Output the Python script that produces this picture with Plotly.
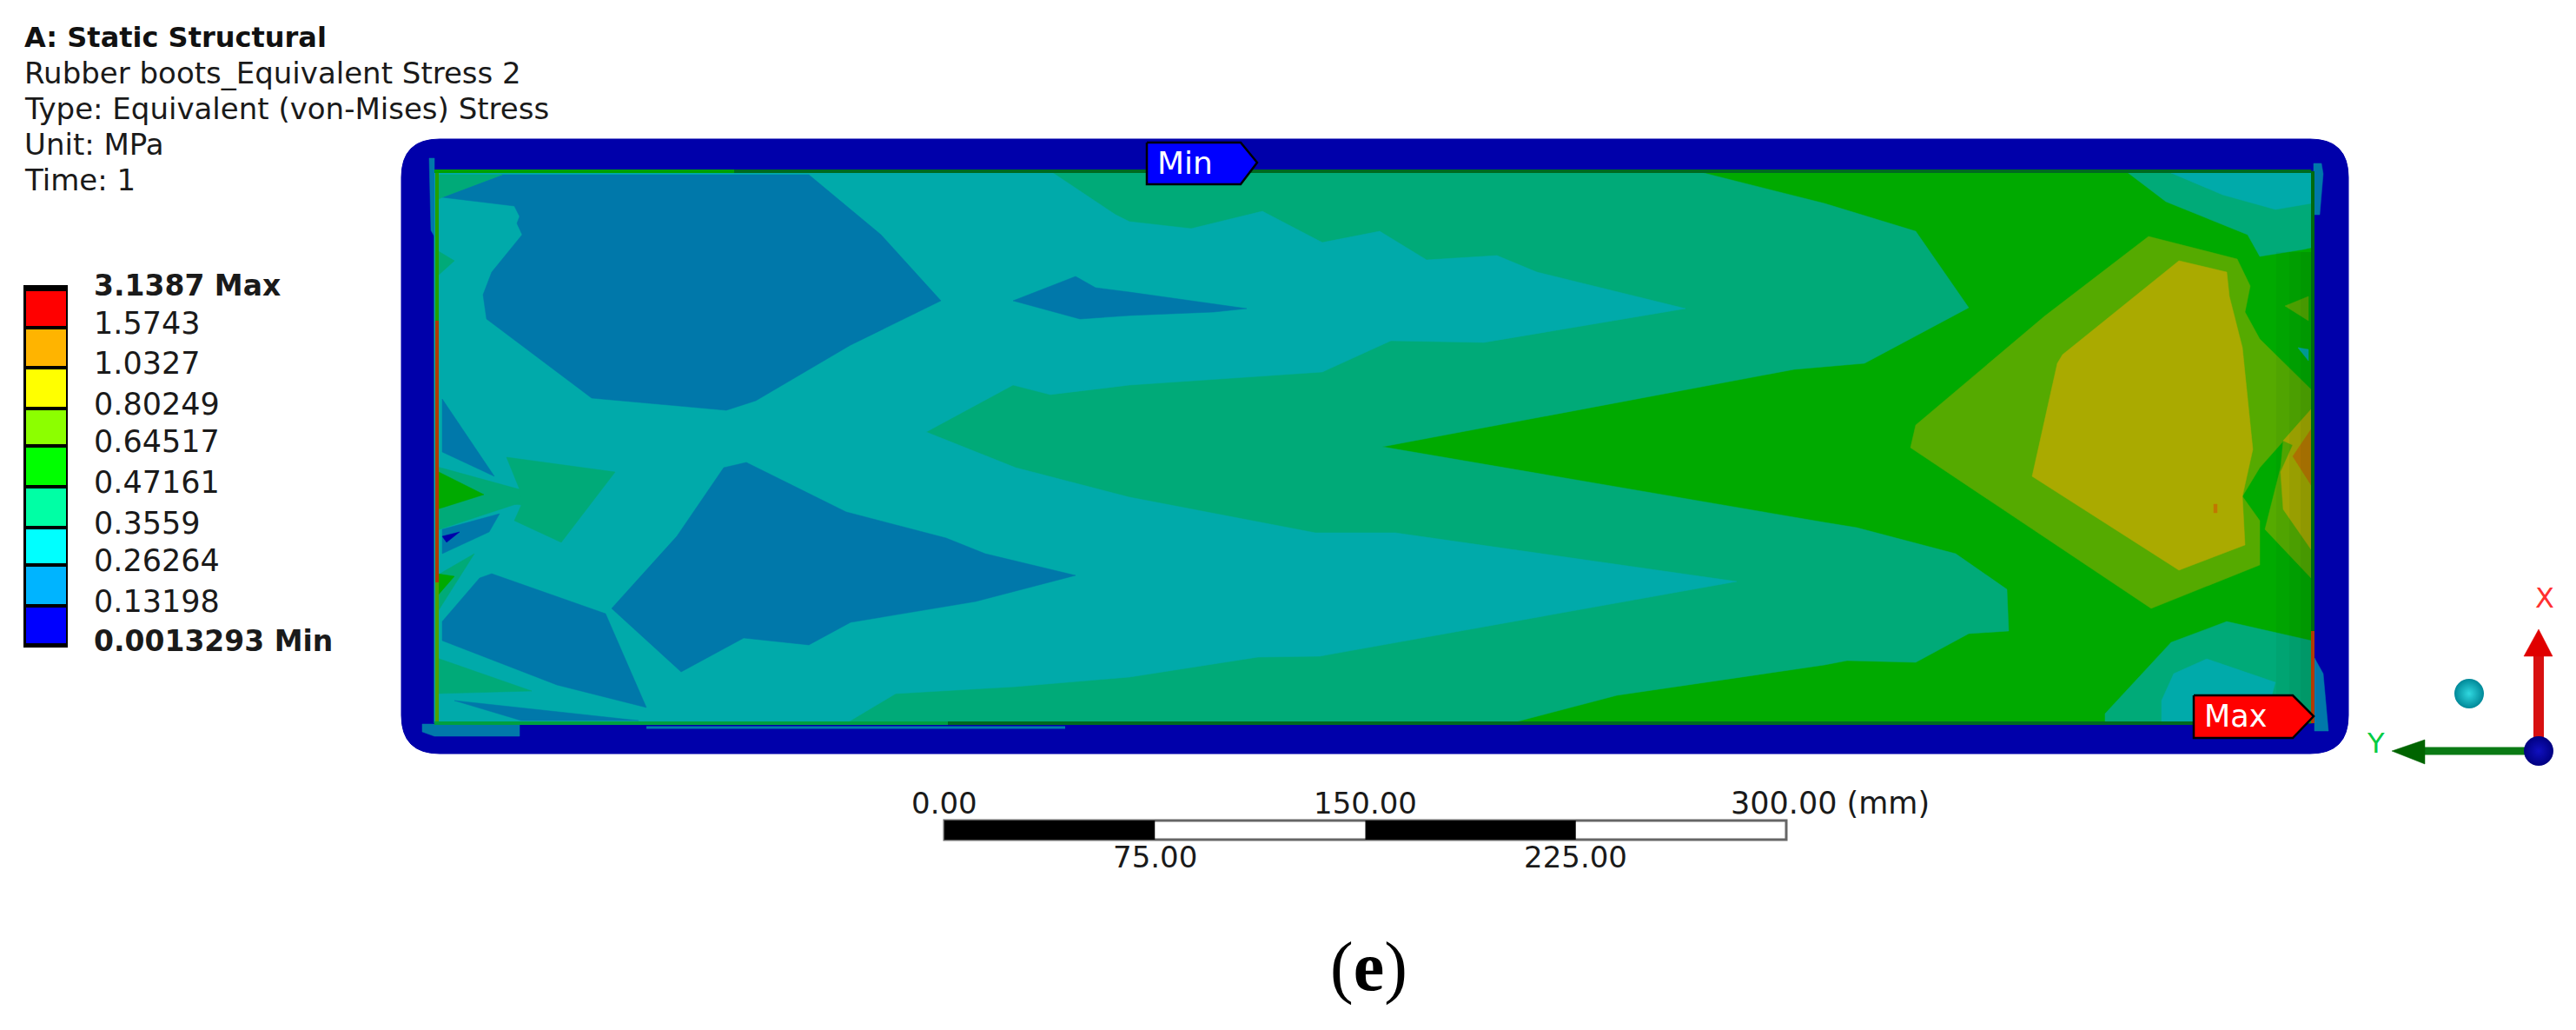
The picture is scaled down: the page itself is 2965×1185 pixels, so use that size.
#!/usr/bin/env python
import plotly.graph_objects as go

W,H = 2965,1185

# header block
header_lines = ["Rubber boots_Equivalent Stress 2","Type: Equivalent (von-Mises) Stress","Unit: MPa","Time: 1"]
header_title = "A: Static Structural"

# legend
legend_labels = ["3.1387 Max","1.5743","1.0327","0.80249","0.64517","0.47161","0.3559","0.26264","0.13198","0.0013293 Min"]
legend_colors = ["#ff0000","#ffb400","#ffff00","#8cff00","#00ff00","#00ffa5","#00ffff","#00b4ff","#0000ff"]
legend_edges = [333,377,423,470,513,560,607,650,697,742]

# scale bar
scale_ticks = [0,75,150,225,300]
scale_labels = ["0.00","75.00","150.00","225.00","300.00 (mm)"]

# contour colours (legend colours seen under the lighting)
C_FRAME = "#0000aa"
C_BLUE = "#0078aa"
C_TEAL = "#00aaaa"
C_TGREEN = "#00aa78"
C_GREEN = "#00aa00"
C_LIME = "#55aa00"
C_OLIVE = "#aaaa00"
C_ORANGE = "#c07800"

# digitised contour bands
plate = [(500,197),(2662,197),(2662,832),(500,832)]
tgreen_main = [(500,197),(1953,197),(2100,234),(2126,242),(2205,266),(2266,354),(2146,418),(2065,425),(1591,514),
    (2100,601),(2137,607),(2251,637),(2310,678),(2312,726),(2266,729),(2205,762),(2126,760),(2100,765),(1861,800),(1739,832),(500,832)]
teal_main = [(500,197),(1209,197),(1284,247),(1300,255),(1371,263),(1453,243),(1522,279),(1588,266),(1642,299),(1723,294),(1769,313),(1940,355),
    (1708,394),(1601,392),(1522,428),(1300,443),(1209,454),(1166,443),(1066,497),(1169,538),(1300,572),(1514,613),(1606,613),(1999,669),
    (1519,755),(1448,756),(1300,779),(1169,790),(1031,798),(974,832),(500,832)]
blue_upper = [(509,227),(578,201),(931,201),(1014,270),(1083,346),(979,397),(870,461),(836,472),(681,458),(560,367),(556,339),(566,313),(601,270),(595,257),(598,249),(592,237)]
blue_sliver = [(1166,346),(1238,318),(1261,331),(1300,336),(1435,355),(1397,359),(1300,363),(1243,367)]
blue_middle = [(704,700),(779,617),(833,538),(859,532),(974,589),(1089,619),(1134,637),(1238,662),(1123,692),(979,716),(931,742),(856,734),(784,773)]
blue_lower = [(509,715),(552,665),(566,660),(697,706),(744,814),(641,788),(509,737)]
blue_left = [(509,459),(569,548),(509,520)]
blue_small = [(509,609),(575,591),(563,612),(509,637)]
blue_bottom = [(523,806),(735,829),(600,829)]
frame_speck = [(509,617),(529,612),(514,624)]
tgreen_corner = [(503,201),(578,201),(509,227),(503,230)]
tgreen_bump = [(503,288),(523,300),(503,318)]
tgreen_quad = [(583,526),(708,543),(646,624),(592,599),(600,581),(575,578),(598,563)]
tgreen_tri = [(503,537),(598,563),(600,578),(503,610)]
green_tri = [(503,542),(557,569),(503,586)]
tgreen_low = [(503,662),(546,637),(503,705)]
green_low = [(503,660),(523,663),(503,686)]
tgreen_foot = [(503,757),(612,795),(503,798)]
tgreen_ne = [(2447,197),(2660,197),(2660,285),(2651,287),(2601,295),(2587,270),(2493,232)]
teal_ne = [(2499,199),(2660,199),(2660,234),(2619,241),(2558,224)]
tgreen_se = [(2423,821),(2499,739),(2563,715),(2660,737),(2660,830),(2423,830)]
teal_se = [(2488,830),(2488,806),(2502,775),(2540,758),(2619,785),(2614,803),(2530,830)]
lime_hot = [(2473,272),(2575,298),(2590,329),(2584,359),(2601,390),(2660,448),(2660,477),(2633,502),(2601,538),(2581,571),(2601,599),(2601,650),(2476,700),(2199,515),(2205,489),(2353,364)]
olive_hot = [(2508,300),(2563,313),(2566,341),(2581,400),(2593,517),(2581,571),(2584,627),(2508,656),(2339,548),(2368,418),(2374,408)]
green_slit = [(2596,563),(2604,540),(2619,536),(2613,568),(2607,599)]
lime_edge = [(2660,466),(2628,507),(2625,538),(2607,609),(2660,665)]
olive_edge = [(2660,471),(2628,507),(2639,512),(2625,543),(2628,586),(2660,632)]
orange_edge = [(2660,494),(2639,525),(2660,558)]
olive_speck = [(2630,352),(2657,341),(2657,369)]
teal_speck = [(2645,400),(2657,402),(2657,415)]
red_speck = [(2548,580),(2552,580),(2552,590),(2548,590)]
blue_nw = [(494,182),(500,182),(500,272),(496,265)]
blue_sw = [(486,833),(598,833),(598,847),(500,847),(486,842)]
blue_ne = [(2663,188),(2672,188),(2674,200),(2670,247),(2663,247)]
blue_se = [(2664,757),(2674,775),(2680,841),(2664,841)]

bands = [(plate,C_GREEN),(tgreen_main,C_TGREEN),(teal_main,C_TEAL),
    (blue_upper,C_BLUE),(blue_sliver,C_BLUE),(blue_middle,C_BLUE),(blue_lower,C_BLUE),(blue_left,C_BLUE),(blue_small,C_BLUE),(blue_bottom,C_BLUE),
    (frame_speck,C_FRAME),(tgreen_corner,C_TGREEN),(tgreen_bump,C_TGREEN),(tgreen_quad,C_TGREEN),(tgreen_tri,C_TGREEN),(green_tri,C_GREEN),
    (tgreen_low,C_TGREEN),(green_low,C_GREEN),(tgreen_foot,C_TGREEN),(tgreen_ne,C_TGREEN),(teal_ne,C_TEAL),(tgreen_se,C_TGREEN),(teal_se,C_TEAL),
    (lime_hot,C_LIME),(olive_hot,C_OLIVE),(green_slit,C_GREEN),(lime_edge,C_LIME),(olive_edge,C_OLIVE),(orange_edge,C_ORANGE),
    (olive_speck,C_LIME),(teal_speck,C_TEAL),(red_speck,C_ORANGE),(blue_nw,C_BLUE),(blue_sw,C_BLUE),(blue_ne,C_BLUE),(blue_se,C_BLUE)]

# edge lines of the boot: (x0,y0,x1,y1,colour,width)
edges = [(503,197,503,369,"#22a000",4),(503,369,503,670,"#b03a00",4),(503,670,503,832,"#50a000",4),
    (500,197,845,197,"#00a000",4),(845,197,2660,197,"#006a20",4),(500,832,1091,832,"#00a040",4),(1091,832,2525,832,"#006a20",4),
    (744,837,1226,837,C_BLUE,3),(2662,197,2662,726,"#006a10",4),(2662,726,2662,832,"#b03a00",4)]

# darkening towards the curved right edge, left end of each strip
shade_strips = [2620,2635,2648]

min_tag = [(1320,164),(1428,164),(1447,187),(1428,212),(1320,212),(1320,164)]
max_tag = [(2525,800),(2639,800),(2663,824),(2639,849),(2525,849),(2525,800)]

def band(fig,pts,color):
    xs = [p[0] for p in pts]+[pts[0][0]]
    ys = [p[1] for p in pts]+[pts[0][1]]
    fig.add_trace(go.Scatter(x=xs,y=ys,mode="lines",fill="toself",fillcolor=color,line={"color":color,"width":0.5},hoverinfo="skip"))

def label(fig,x,y,text,size=35,color="#1a1a1a",bold=False,anchor="left",family="DejaVu Sans"):
    if bold:
        text = "<b>"+text+"</b>"
    fig.add_annotation(x=x,y=y,text=text,showarrow=False,xanchor=anchor,yanchor="middle",
        font={"family":family,"size":size,"color":color},xref="x",yref="y")

def rect(fig,x0,y0,x1,y1,color,line=None,width=0):
    fig.add_shape(type="rect",x0=x0,y0=y0,x1=x1,y1=y1,fillcolor=color,line={"color":line or color,"width":width},layer="above")

fig = go.Figure()

# blue rounded outer frame
fig.add_shape(type="path",path="M 506 160 L 2659 160 Q 2703 160 2703 204 L 2703 823 Q 2703 867 2659 867 L 506 867 Q 462 867 462 823 L 462 204 Q 462 160 506 160 Z",
    fillcolor=C_FRAME,line={"color":C_FRAME,"width":1},layer="below")

for pts,color in bands:
    band(fig,pts,color)
for x0 in shade_strips:
    fig.add_trace(go.Scatter(x=[x0,2660,2660,x0,x0],y=[290,290,830,830,290],mode="lines",fill="toself",
        fillcolor="rgba(0,50,20,0.05)",line={"width":0},hoverinfo="skip"))
for x0,y0,x1,y1,color,width in edges:
    fig.add_trace(go.Scatter(x=[x0,x1],y=[y0,y1],mode="lines",line={"color":color,"width":width},hoverinfo="skip"))

# min / max probes
for pts,color in [(min_tag,"#0000ff"),(max_tag,"#ff0000")]:
    fig.add_trace(go.Scatter(x=[p[0] for p in pts],y=[p[1] for p in pts],mode="lines",fill="toself",fillcolor=color,
        line={"color":"#000000","width":2.5},hoverinfo="skip"))
label(fig,1364,187,"Min",size=36,color="#ffffff",anchor="center")
label(fig,2573,824,"Max",size=35,color="#ffffff",anchor="center")

# header
label(fig,26,43,header_title,size=32,color="#111111",bold=True)
for i,txt in enumerate(header_lines):
    label(fig,26,84+41*i,txt,size=34)

# legend bar
rect(fig,27,328,78,745,"#000000")
for i,color in enumerate(legend_colors):
    rect(fig,30,legend_edges[i]+2,76,legend_edges[i+1]-2,color)
for i,txt in enumerate(legend_labels):
    y = 328 if i==0 else legend_edges[i]-5
    bold = i==0 or i==len(legend_labels)-1
    label(fig,106,y,txt,size=33 if bold else 35,bold=bold)

# scale bar
px_per_mm = (2056-1087)/300
rect(fig,1087,944,2056,966,"#ffffff","#666666",3)
for a,b in [(0,1),(2,3)]:
    rect(fig,1087+scale_ticks[a]*px_per_mm,944,1087+scale_ticks[b]*px_per_mm,966,"#000000")
for i,txt in enumerate(scale_labels):
    x = 1087+scale_ticks[i]*px_per_mm
    if i==4:
        label(fig,1990,924,txt,size=35)
    else:
        label(fig,x,924 if i%2==0 else 986,txt,size=34,anchor="center")

# triad
fig.add_trace(go.Scatter(x=[2922,2922],y=[849,755],mode="lines",line={"color":"#d81010","width":12},hoverinfo="skip"))
band(fig,[(2905,755),(2938,755),(2922,724)],"#e00000")
fig.add_trace(go.Scatter(x=[2911,2791],y=[864,864],mode="lines",line={"color":"#0a7a14","width":9},hoverinfo="skip"))
band(fig,[(2791,851),(2791,879),(2753,864)],"#006400")
fig.add_trace(go.Scatter(x=[2922,2842],y=[864,798],mode="markers",
    marker={"size":[34,34],"opacity":1,"color":["#000080","#008898"],"gradient":{"type":"radial","color":["#1010c0","#30d8e0"]},"line":{"width":0}},hoverinfo="skip"))
label(fig,2929,688,"X",size=32,color="#ff3030",anchor="center")
label(fig,2734,855,"Y",size=32,color="#00cc44",anchor="center")

# panel tag
label(fig,1575,1112,"(<b>e</b>)",size=80,color="#000000",anchor="center",family="Liberation Serif")

fig.update_layout(width=W,height=H,margin={"l":0,"r":0,"t":0,"b":0},showlegend=False,
    plot_bgcolor="#ffffff",paper_bgcolor="#ffffff")
fig.update_xaxes(range=[0,W],visible=False,fixedrange=True)
fig.update_yaxes(range=[H,0],visible=False,fixedrange=True)

fig.write_html("out.html",config={"displayModeBar":False},post_script="document.body.style.margin='0';")
